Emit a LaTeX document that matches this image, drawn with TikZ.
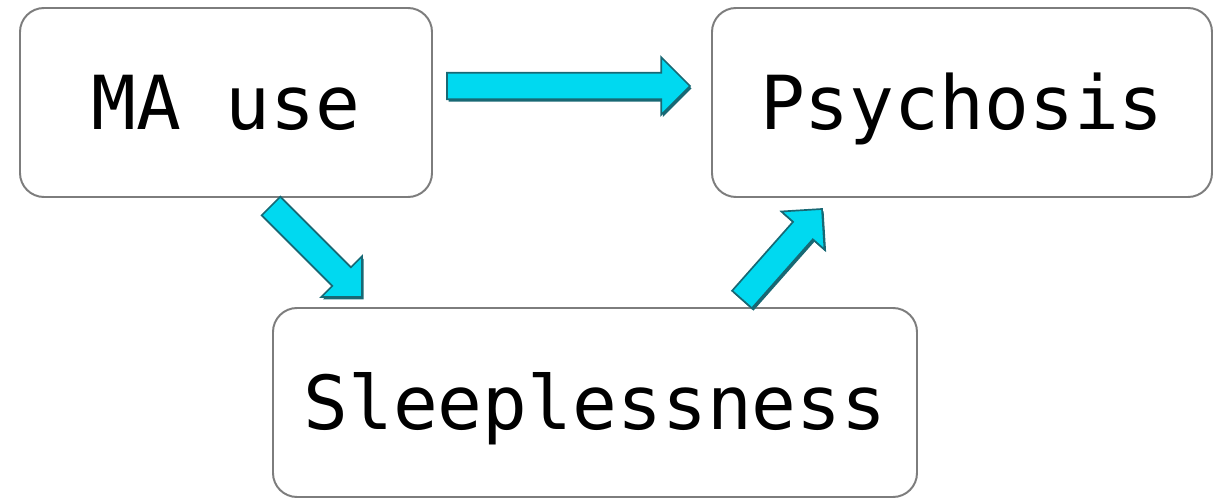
\documentclass[tikz,border=0pt]{standalone}
\usepackage{fontspec}
\newfontfamily\boxfont{DejaVu Sans Mono}
\usetikzlibrary{calc}

\definecolor{arrowfill}{RGB}{0,217,240}
\definecolor{arrowline}{RGB}{24,104,116}
\definecolor{boxline}{RGB}{125,125,125}

\tikzset{
  box/.style={draw=boxline, line width=1.4pt, rounded corners=0.6cm, minimum height=4.725cm,
    text height=38.6pt, text depth=0pt, font=\boxfont\fontsize{53}{60}\selectfont},
  flow/.style={draw=arrowline, line width=1.2pt, fill=arrowfill, line join=miter,
    preaction={fill=arrowline, transform canvas={shift={(0.04,-0.06)}}},
    to path={let \p1=($(\tikztotarget)!0.72cm!(\tikztostart)$) in
      ($(\tikztostart)!0.33cm!90:(\tikztotarget)$) -- ($(\p1)!0.33cm!90:(\tikztotarget)$)
      -- ($(\p1)!0.72cm!90:(\tikztotarget)$) -- (\tikztotarget)
      -- ($(\p1)!0.72cm!-90:(\tikztotarget)$) -- ($(\p1)!0.33cm!-90:(\tikztotarget)$)
      -- ($(\tikztostart)!0.33cm!-90:(\tikztotarget)$) -- cycle}},
}

\begin{document}
\begin{tikzpicture}
\useasboundingbox (0,0) rectangle (30.325,12.475);

\node [box, minimum width=10.3cm] (mause) at (5.65,9.9125) {MA use};
\node [box, minimum width=12.5cm] (psychosis) at (24.05,9.9125) {Psychosis};
\node [box, minimum width=16.1cm] (sleep) at (14.875,2.4125) {Sleeplessness};

% arrow ends
\coordinate (ma-out) at (11.175,10.325);
\coordinate (psy-in) at (17.25,10.325);
\coordinate (ma-down) at (6.775,7.325);
\coordinate (sl-in) at (9.05,5.05);
\coordinate (sl-out) at (18.55,4.9875);
\coordinate (psy-up) at (20.55,7.25);

\draw [flow] (ma-out) to (psy-in);
\draw [flow] (ma-down) to (sl-in);
\draw [flow] (sl-out) to (psy-up);

\end{tikzpicture}
\end{document}
